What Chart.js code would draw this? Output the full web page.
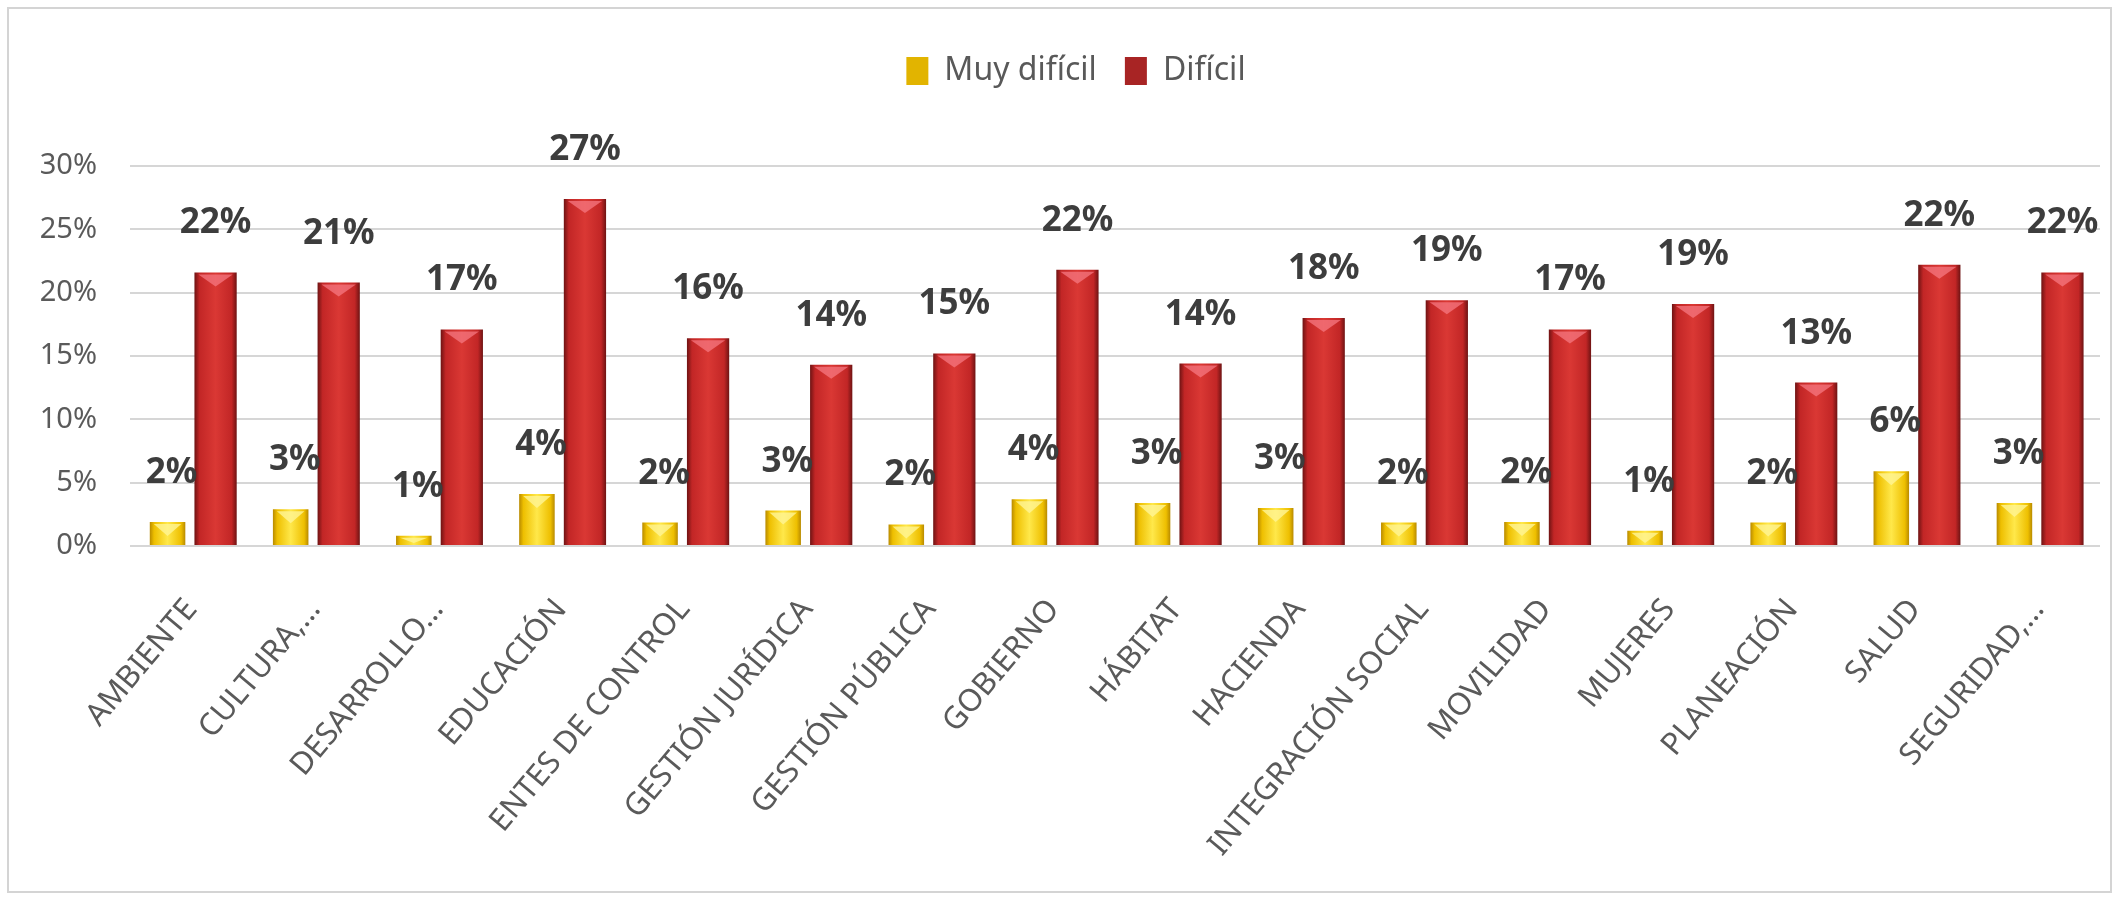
<!DOCTYPE html>
<html>
<head>
<meta charset="utf-8">
<script src="https://cdn.jsdelivr.net/npm/chart.js@4.4.1/dist/chart.umd.min.js"></script>
<style>
  html, body { margin: 0; padding: 0; background: #fff; }
  #wrap { width: 2119px; height: 900px; position: relative; }
</style>
</head>
<body>
<div id="wrap"><canvas id="chart"></canvas></div>
<script>
// categories (x axis)
const categories = [
  'AMBIENTE', 'CULTURA,…', 'DESARROLLO…', 'EDUCACIÓN', 'ENTES DE CONTROL',
  'GESTIÓN JURÍDICA', 'GESTIÓN PÚBLICA', 'GOBIERNO', 'HÁBITAT', 'HACIENDA',
  'INTEGRACIÓN SOCIAL', 'MOVILIDAD', 'MUJERES', 'PLANEACIÓN', 'SALUD', 'SEGURIDAD,…'
]
// values in percent
const muyDificil = [1.9, 2.9, 0.8, 4.1, 1.85, 2.8, 1.7, 3.7, 3.4, 3.0, 1.85, 1.9, 1.2, 1.85, 5.9, 3.4]
const dificil = [21.6, 20.8, 17.1, 27.4, 16.4, 14.3, 15.2, 21.8, 14.4, 18.0, 19.4, 17.1, 19.1, 12.9, 22.2, 21.6]
const seriesNames = ['Muy difícil', 'Difícil']
const yTicks = [0, 5, 10, 15, 20, 25, 30]

Chart.defaults.font.family = "'Noto Sans', sans-serif"

// horizontal shading for each bar, like the bevelled Excel bars
function barFill(dark, mid, light) {
    return (ctx) => {
        if (ctx.type !== 'data') return mid
        const el = ctx.chart.getDatasetMeta(ctx.datasetIndex).data[ctx.dataIndex]
        if (!el || !el.width) return mid
        const x0 = el.x - el.width / 2
        const x1 = el.x + el.width / 2
        const g = ctx.chart.ctx.createLinearGradient(x0, 0, x1, 0)
        g.addColorStop(0, dark)
        g.addColorStop(0.12, mid)
        g.addColorStop(0.5, light)
        g.addColorStop(0.88, mid)
        g.addColorStop(1, dark)
        return g
    }
}

// value labels above bars and the small top bevel
const barLabels = {
    id: 'barLabels',
    afterDatasetsDraw(chart) {
        const c = chart.ctx
        c.save()
        chart.data.datasets.forEach((ds, di) => {
            const meta = chart.getDatasetMeta(di)
            meta.data.forEach((bar, i) => {
                const w = bar.width
                const top = bar.y
                // bevel notch
                if (bar.base - top > 6) {
                    c.fillStyle = di === 0 ? 'rgba(255,245,150,0.8)' : 'rgba(245,120,130,0.75)'
                    c.beginPath()
                    c.moveTo(bar.x - w / 2 + 4, top + 2)
                    c.lineTo(bar.x + w / 2 - 4, top + 2)
                    c.lineTo(bar.x, top + Math.min(14, (bar.base - top) - 2))
                    c.closePath()
                    c.fill()
                }
                c.fillStyle = '#3d3d3d'
                c.font = "bold 35px 'Noto Sans', sans-serif"
                c.textAlign = 'center'
                c.textBaseline = 'middle'
                const dx = di === 0 ? 4 : 0
                c.fillText(Math.round(ds.data[i]) + '%', bar.x + dx, top - 49)
            })
        })
        c.restore()
    }
}

// light frame round the whole chart
const frame = {
    id: 'frame',
    beforeDraw(chart) {
        const c = chart.ctx
        c.save()
        c.fillStyle = '#ffffff'
        c.fillRect(0, 0, chart.width, chart.height)
        c.strokeStyle = '#d4d4d4'
        c.lineWidth = 2
        c.strokeRect(8, 8, chart.width - 16, chart.height - 16)
        c.restore()
    }
}

// push the plot down below the legend, and nudge the legend right
const legendGap = {
    id: 'legendGap',
    beforeLayout(chart) {
        const lg = chart.legend
        if (lg && !lg._gapPatched) {
            const fit = lg.fit.bind(lg)
            lg.fit = function () {
                fit()
                this.height += 69
            }
            lg._gapPatched = true
        }
    },
    afterLayout(chart) {
        const lg = chart.legend
        if (lg) {
            lg.left += 26
            lg.right += 26
        }
    }
}

const legendColors = ['#e2b400', '#a82424']

const chart = new Chart(document.getElementById('chart').getContext('2d'), {
    type: 'bar',
    data: {
        labels: categories,
        datasets: [
            {
                label: seriesNames[0],
                data: muyDificil,
                backgroundColor: barFill('#b88a00', '#eebf00', '#ffe84a'),
                barPercentage: 0.74,
                categoryPercentage: 0.78
            },
            {
                label: seriesNames[1],
                data: dificil,
                backgroundColor: barFill('#6e1313', '#c22626', '#da3834'),
                barPercentage: 0.88,
                categoryPercentage: 0.78
            }
        ]
    },
    options: {
        responsive: true,
        maintainAspectRatio: false,
        animation: false,
        layout: { padding: { top: 27, left: 0, right: 19, bottom: 10 } },
        plugins: {
            tooltip: { enabled: false },
            legend: {
                position: 'top',
                labels: {
                    boxWidth: 22,
                    boxHeight: 28,
                    padding: 28,
                    color: '#595959',
                    font: { size: 32 },
                    generateLabels(ch) {
                        return Chart.defaults.plugins.legend.labels.generateLabels(ch).map((l, i) => {
                            l.fillStyle = legendColors[i]
                            l.strokeStyle = legendColors[i]
                            l.lineWidth = 0
                            return l
                        })
                    }
                }
            }
        },
        scales: {
            x: {
                grid: { display: false, drawTicks: false },
                border: { display: false },
                ticks: {
                    autoSkip: false,
                    maxRotation: 50,
                    minRotation: 50,
                    padding: 46,
                    color: '#5a5a5a',
                    font: { size: 31 }
                },
                afterFit(s) { s.height = 344 }
            },
            y: {
                min: 0,
                max: 30,
                afterBuildTicks(s) { s.ticks = yTicks.map(v => ({ value: v })) },
                grid: { color: '#d6d6d6', lineWidth: 2, drawTicks: false },
                border: { display: false },
                ticks: {
                    padding: 33,
                    color: '#5a5a5a',
                    font: { size: 29 },
                    callback: (v) => v + '%'
                },
                afterFit(s) { s.width = 130 }
            }
        }
    },
    plugins: [frame, barLabels, legendGap]
})
// second pass so the bar shading knows each bar's position
chart.update()
</script>
</body>
</html>
